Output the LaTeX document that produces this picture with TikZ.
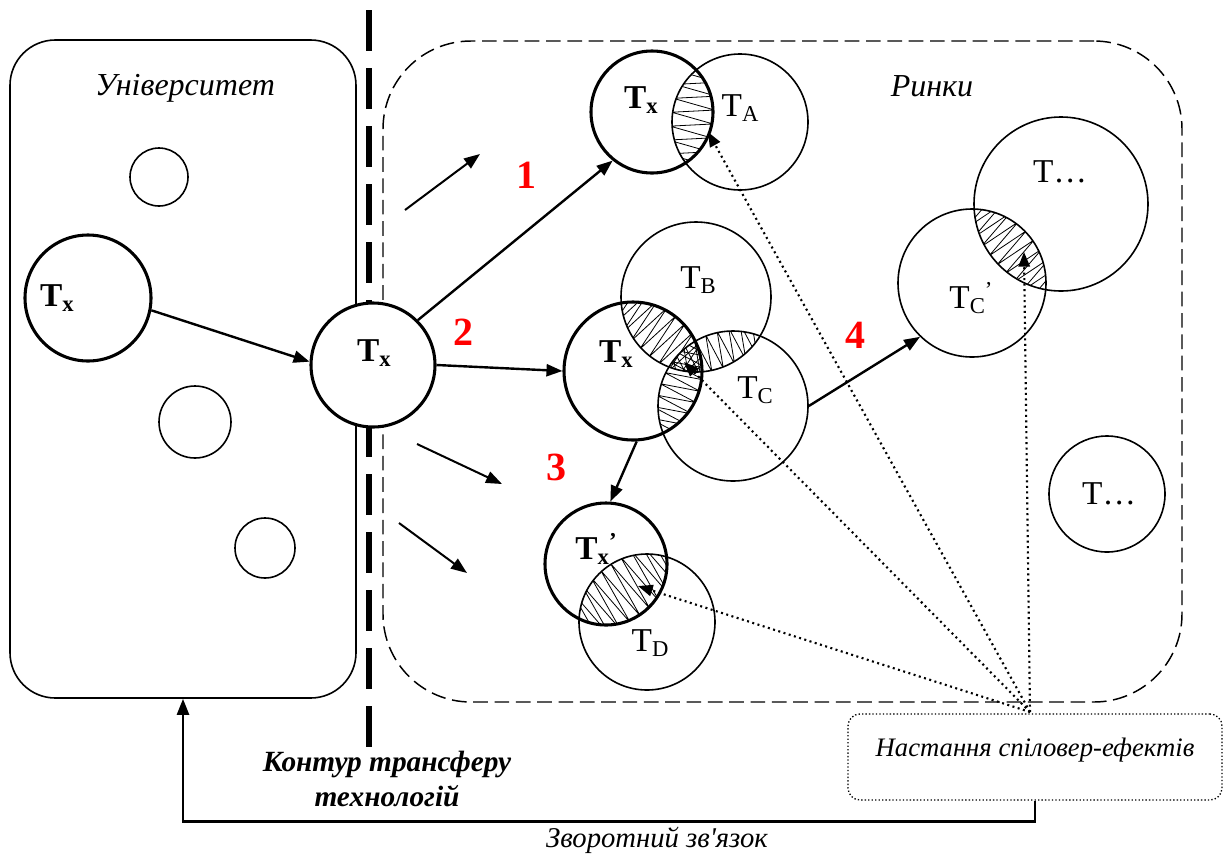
\documentclass[tikz,border=0pt]{standalone}
\usepackage{fontspec}
\setmainfont{Liberation Serif}
\usetikzlibrary{arrows.meta,calc}

% subscript / prime helpers for the technology labels
\newcommand{\sbx}[1]{\raisebox{-3.5pt}{\fontsize{17}{17}\selectfont #1}}
\newcommand{\prm}{\raisebox{8pt}{\fontsize{17}{17}\selectfont ’}}

% zigzag hatching of the overlap of two circles: x1 y1 r1 x2 y2 r2 step
\newcommand{\lenshatch}[7]{%
  \begin{scope}
    \clip (#1,#2) circle[radius=#3];
    \clip (#4,#5) circle[radius=#6];
    \pgfmathsetmacro{\ld}{veclen(#4-#1,#5-#2)}
    \pgfmathsetmacro{\lt}{(\ld+#3-#6)/(2*\ld)}
    \pgfmathsetmacro{\lcx}{#1+\lt*(#4-#1)}
    \pgfmathsetmacro{\lcy}{#2+\lt*(#5-#2)}
    \pgfmathsetmacro{\la}{(#3+#6-\ld)/2+1}
    \pgfmathsetmacro{\lang}{atan2(-(#5-#2),#4-#1)+90}
    \pgfmathsetmacro{\lL}{max(#3,#6)}
    \pgfmathtruncatemacro{\lN}{2*\lL/#7}
    \draw[hatch, shift={(\lcx,\lcy)}, rotate=\lang]
      (-\lL,-\la) \foreach \k in {1,...,\lN} { -- ({-\lL+\k*#7},{\la*(2*mod(\k,2)-1)}) };
  \end{scope}}

\tikzset{
  circ/.style={circle, draw, line width=1.2pt, minimum size=#1*1.5pt, inner sep=0pt},
  bcirc/.style={circ=#1, line width=2.3pt},
  lbl/.style={font=\fontsize{25}{30}\selectfont, inner sep=0pt},
  blbl/.style={inner sep=0pt, font=\fontsize{25}{30}\selectfont\bfseries},
  num/.style={font=\fontsize{30}{30}\selectfont\bfseries, text=red, inner sep=0pt},
  flow/.style={line width=1.8pt, -{Triangle[length=12pt,width=9pt]}},
  hint/.style={line width=1.5pt, -{Triangle[length=12pt,width=9pt]}},
  spillarrow/.style={line width=1.6pt, dash pattern=on 1.5pt off 2.6pt, -{Triangle[length=11pt,width=8.5pt]}},
  hatch/.style={line width=0.6pt},
  title/.style={font=\fontsize{24}{29}\selectfont\itshape, inner sep=0pt},
}

\begin{document}
\begin{tikzpicture}[x=0.75pt,y=-0.75pt]
\useasboundingbox (0,0) rectangle (1225,854);

% containers
\node[draw, line width=1.2pt, rounded corners=34pt, minimum width=259.5pt, minimum height=493.5pt] (univ) at (183,369) {};
\node[draw, line width=1.1pt, dash pattern=on 11pt off 5pt, rounded corners=66pt, minimum width=599.25pt, minimum height=495.75pt] (mkt) at (782.5,371.5) {};
\node[title] (univT) at (185,88) {Університет};
\node[title] (mktT) at (932,86) {Ринки};

% transfer boundary
\coordinate (bTop) at (369,10);
\coordinate (bBot) at (369,747);
\draw[line width=3.8pt, dash pattern=on 31pt off 12.5pt] (bTop) -- (bBot);

% university side
\node[circ=29] (u1) at (159,177) {};
\node[circ=36] (u2) at (195,422) {};
\node[circ=30] (u3) at (265,548) {};
\node[bcirc=63] (tx0) at (88,298) {};
\node[blbl] (tx0L) at (57,298) {T\sbx{x}};
\node[bcirc=62, fill=white] (tx1) at (373,365) {};
\node[blbl] (tx1L) at (374,353) {T\sbx{x}};

% overlaps
\lenshatch{652}{112}{61}{740}{122}{68}{7}
\lenshatch{633}{371}{69}{696}{297}{75}{6}
\lenshatch{633}{371}{69}{733}{406}{75}{6}
\lenshatch{696}{297}{75}{733}{406}{75}{6}
\lenshatch{606}{564}{61}{647}{622}{68}{6}
\lenshatch{972}{283}{74}{1061}{204}{87}{6}

% market side
\node[bcirc=61] (txA) at (652,112) {};
\node[circ=68] (tA) at (740,122) {};
\node[blbl] (txAL) at (641,100) {T\sbx{x}};
\node[lbl] (tAL) at (740,108) {T\sbx{A}};

\node[circ=75] (tB) at (696,297) {};
\node[circ=75] (tC) at (733,406) {};
\node[bcirc=69] (tx2) at (633,371) {};
\node[lbl] (tBL) at (698,280) {T\sbx{B}};
\node[lbl] (tCL) at (755,390) {T\sbx{C}};
\node[blbl] (tx2L) at (616,354) {T\sbx{x}};

\node[bcirc=61] (tx3) at (606,564) {};
\node[circ=68] (tD) at (647,622) {};
\node[blbl] (tx3L) at (596,549) {T\sbx{x}\prm};
\node[lbl] (tDL) at (650,643) {T\sbx{D}};

\node[circ=74] (tC2) at (972,283) {};
\node[circ=87] (tE) at (1061,204) {};
\node[lbl] (tC2L) at (971,298) {T\sbx{C}\prm};
\node[lbl] (tEL) at (1060,172) {T…};

\node[circ=58] (tF) at (1107,494) {};
\node[lbl] (tFL) at (1109,494) {T…};

% transfer paths
\draw[flow] (tx0.-11) -- (tx1.177);
\draw[flow] (tx1.45) -- (txA.231);
\draw[flow] (tx1.0) -- (tx2.180);
\draw[flow] (tx2.-87) -- (tx3.86);
\draw[flow] (tC.0) -- (tC2.226);

\coordinate (h1a) at (405,210); \coordinate (h1b) at (480,154);
\coordinate (h2a) at (417,444); \coordinate (h2b) at (502,484);
\coordinate (h3a) at (399,523); \coordinate (h3b) at (467,573);
\draw[hint] (h1a) -- (h1b);
\draw[hint] (h2a) -- (h2b);
\draw[hint] (h3a) -- (h3b);

\node[num] (n1) at (526,175) {1};
\node[num] (n2) at (463,332) {2};
\node[num] (n3) at (556,467) {3};
\node[num] (n4) at (855,335) {4};

% spillover effects
\node[draw, line width=1pt, dash pattern=on 1pt off 1.6pt, rounded corners=9pt, minimum width=280.5pt, minimum height=64.5pt] (spill) at (1035,757) {};
\node[font=\fontsize{20}{24}\selectfont\itshape, inner sep=0pt] (spillT) at (1035,750) {Настання спіловер-ефектів};
\coordinate (conv) at (1030,712);
\coordinate (sA) at (708,132);
\coordinate (sB) at (684,362);
\coordinate (sD) at (638,586);
\coordinate (sC) at (1024,252);
\draw[spillarrow] (conv) -- (sA);
\draw[spillarrow] (conv) -- (sB);
\draw[spillarrow] (conv) -- (sD);
\draw[spillarrow] (conv) -- (sC);

% feedback loop
\draw[line width=1.9pt, -{Triangle[length=12pt,width=9pt]}] (spill.south) -- ++(0,21) -| (univ.south);
\node[font=\fontsize{21.5}{25}\selectfont\itshape, inner sep=0pt] (fbT) at (657,840) {Зворотний зв\textquotesingle язок};

\node[font=\fontsize{22}{26}\selectfont\bfseries\itshape, align=center, inner sep=0pt] (contour) at (387,779) {Контур трансферу\\технологій};

\end{tikzpicture}
\end{document}
